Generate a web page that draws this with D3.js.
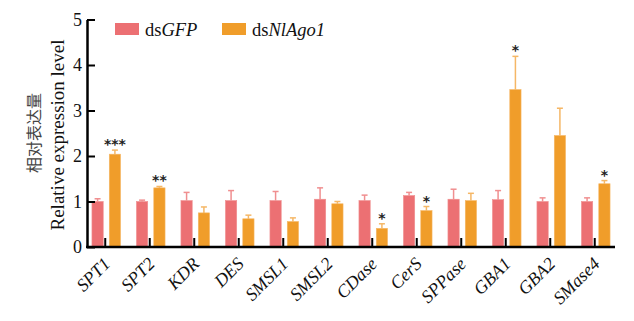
<!DOCTYPE html>
<html>
<head>
<meta charset="utf-8">
<script src="https://cdn.jsdelivr.net/npm/d3@7"></script>
<style>
  body { margin: 0; background: #fff; }
  svg { display: block; }
</style>
</head>
<body>
<svg id="chart" width="634" height="321"></svg>
<script>
// data
const genes = ["SPT1", "SPT2", "KDR", "DES", "SMSL1", "SMSL2", "CDase", "CerS", "SPPase", "GBA1", "GBA2", "SMase4"];
const groups = ["dsGFP", "dsNlAgo1"];
const gfpMean = [1.00, 1.00, 1.02, 1.02, 1.02, 1.05, 1.02, 1.13, 1.05, 1.04, 1.00, 1.00];
const gfpErr  = [0.06, 0.03, 0.18, 0.22, 0.20, 0.25, 0.12, 0.07, 0.22, 0.20, 0.08, 0.08];
const agoMean = [2.04, 1.30, 0.75, 0.62, 0.56, 0.95, 0.41, 0.80, 1.02, 3.46, 2.45, 1.39];
const agoErr  = [0.09, 0.03, 0.13, 0.08, 0.08, 0.05, 0.10, 0.09, 0.16, 0.73, 0.60, 0.07];
const signif  = ["***", "**", "", "", "", "", "*", "*", "", "*", "", "*"];
const yTicks = [0, 1, 2, 3, 4, 5];

const colors = { dsGFP: "#ec7073", dsNlAgo1: "#f09d2a" };
const errColors = { dsGFP: "#f08f90", dsNlAgo1: "#f5b766" };

const svg = d3.select("#chart");
const serif = "'Liberation Serif', 'Times New Roman', serif";

const x = d3.scaleBand().domain(genes).range([83, 617]);
const x1 = d3.scaleBand().domain(groups).range([-13.3, 15.3]).paddingInner(0.35);
const y = d3.scaleLinear().domain([0, 5]).range([247, 19.5]);

const rows = genes.map((g, i) => ({
  gene: g,
  vals: [
    { key: "dsGFP", v: gfpMean[i], e: gfpErr[i] },
    { key: "dsNlAgo1", v: agoMean[i], e: agoErr[i] }
  ],
  sig: signif[i],
  top: agoMean[i] + agoErr[i]
}));

const cx = g => x(g) + x.bandwidth() / 2;

// bars + error bars
const grp = svg.append("g")
  .selectAll("g")
  .data(rows)
  .join("g")
    .attr("transform", d => `translate(${cx(d.gene)},0)`);

const bar = grp.selectAll("g")
  .data(d => d.vals)
  .join("g");

bar.append("line")
    .attr("x1", d => x1(d.key) + x1.bandwidth() / 2)
    .attr("x2", d => x1(d.key) + x1.bandwidth() / 2)
    .attr("y1", d => y(d.v))
    .attr("y2", d => y(d.v + d.e))
    .attr("stroke", d => errColors[d.key])
    .attr("stroke-width", 1.5);

bar.append("line")
    .attr("x1", d => x1(d.key) + x1.bandwidth() / 2 - 3)
    .attr("x2", d => x1(d.key) + x1.bandwidth() / 2 + 3)
    .attr("y1", d => y(d.v + d.e))
    .attr("y2", d => y(d.v + d.e))
    .attr("stroke", d => errColors[d.key])
    .attr("stroke-width", 1.5);

bar.append("rect")
    .attr("x", d => x1(d.key))
    .attr("y", d => y(d.v))
    .attr("width", x1.bandwidth())
    .attr("height", d => y(0) - y(d.v))
    .attr("fill", d => colors[d.key])
    .attr("stroke", d => errColors[d.key])
    .attr("stroke-width", 0.6);

// significance stars
grp.append("text")
    .attr("x", x1("dsNlAgo1") + x1.bandwidth() / 2)
    .attr("y", d => y(d.top) - 1)
    .attr("text-anchor", "middle")
    .style("font", "bold 14px 'DejaVu Sans', sans-serif")
    .attr("fill", "#222")
    .text(d => d.sig);

// x axis: inward ticks, custom line
const xAxis = svg.append("g")
    .attr("transform", `translate(0,${y(0)})`)
    .call(d3.axisBottom(x).tickSizeInner(-9).tickSizeOuter(0).tickFormat(""));
xAxis.select(".domain").remove();
xAxis.selectAll(".tick line").attr("stroke", "#000").attr("stroke-width", 2);

svg.append("line")
    .attr("x1", 86).attr("x2", 615)
    .attr("y1", y(0)).attr("y2", y(0))
    .attr("stroke", "#000").attr("stroke-width", 2.5);

// x labels
svg.append("g")
  .selectAll("text")
  .data(genes)
  .join("text")
    .attr("transform", d => `translate(${cx(d) + 6},265) rotate(-45)`)
    .attr("text-anchor", "end")
    .style("font", `italic 18px ${serif}`)
    .attr("fill", "#111")
    .text(d => d);

// y axis
const yAxis = svg.append("g")
    .attr("transform", "translate(87,0)")
    .call(d3.axisLeft(y).tickValues(yTicks).tickFormat(d3.format("d"))
      .tickSizeInner(-8).tickSizeOuter(0).tickPadding(5));
yAxis.select(".domain").attr("stroke", "#000").attr("stroke-width", 2.5);
yAxis.selectAll(".tick line").attr("stroke", "#000").attr("stroke-width", 2);
yAxis.selectAll(".tick text")
    .style("font", `18px ${serif}`)
    .attr("fill", "#111");

// y titles
svg.append("text")
    .attr("transform", "translate(64,135) rotate(-90)")
    .attr("text-anchor", "middle")
    .style("font", `19px ${serif}`)
    .attr("fill", "#111")
    .text("Relative expression level");

svg.append("text")
    .attr("transform", "translate(40,133) rotate(-90)")
    .attr("text-anchor", "middle")
    .style("font", "16px 'Noto Sans CJK SC', sans-serif")
    .attr("fill", "#444")
    .text("相对表达量");

// legend
const legendX = [115, 222];
const leg = svg.append("g")
  .selectAll("g")
  .data(groups)
  .join("g")
    .attr("transform", (d, i) => `translate(${legendX[i]},23)`);

leg.append("rect")
    .attr("width", 24).attr("height", 12)
    .attr("fill", d => colors[d]);

const lt = leg.append("text")
    .attr("x", 30).attr("y", 13)
    .style("font", `18.5px ${serif}`)
    .attr("fill", "#111");
lt.append("tspan").text("ds");
lt.append("tspan").style("font-style", "italic").text(d => d.slice(2));
</script>
</body>
</html>
